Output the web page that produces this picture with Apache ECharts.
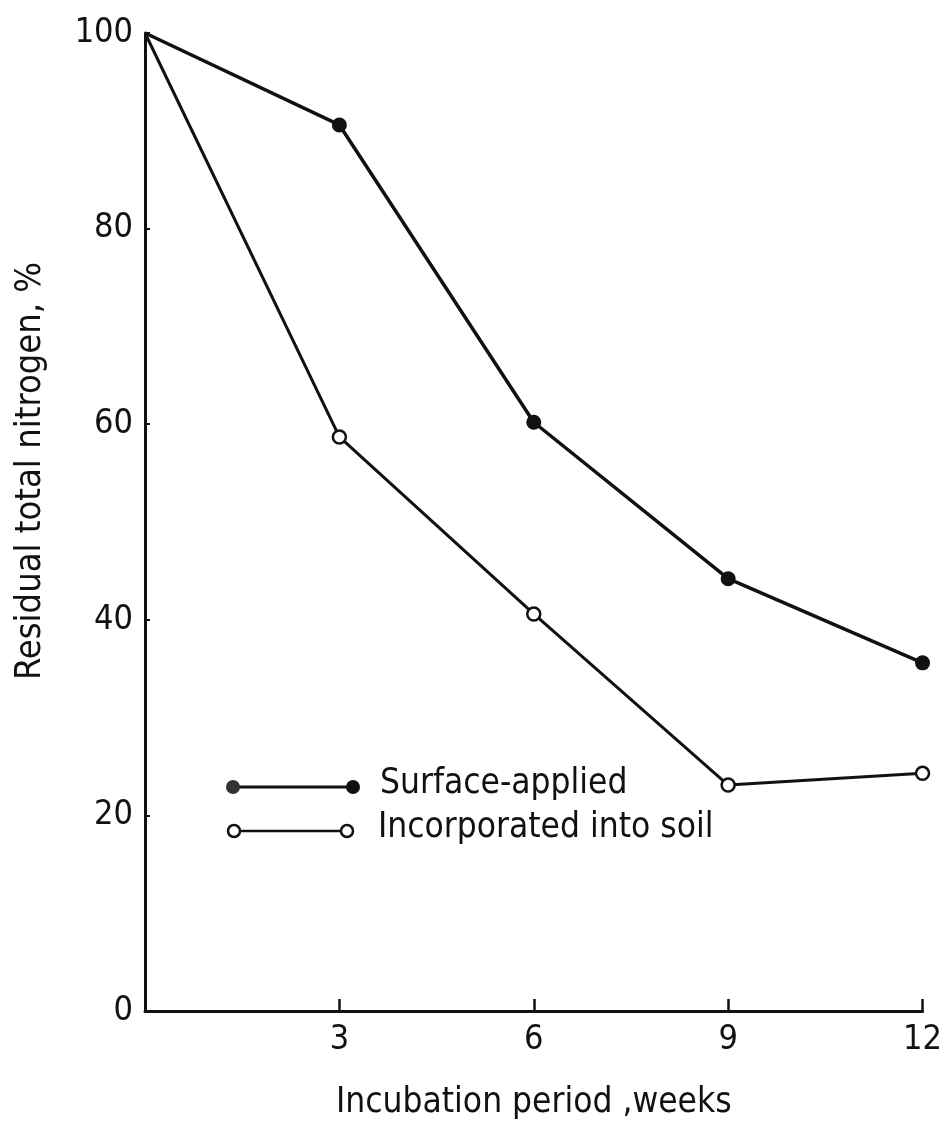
<!DOCTYPE html>
<html>
<head>
<meta charset="utf-8">
<script src="https://cdn.jsdelivr.net/npm/echarts@6/dist/echarts.min.js"></script>
<style>html,body{margin:0;padding:0;background:#fff;}#c{width:945px;height:1133px;}</style>
</head>
<body>
<div id="c"></div>
<script>
var weeks = [0, 3, 6, 9, 12];
var surfaceApplied = [100, 90.6, 60.2, 44.2, 35.6];
var incorporated = [100, 58.7, 40.6, 23.1, 24.3];
var xTicks = [3, 6, 9, 12];
var yTicks = [0, 20, 40, 60, 80, 100];
var seriesNames = ['Surface-applied', 'Incorporated into soil'];

var font = '"DejaVu Sans Condensed", "DejaVu Sans", sans-serif';
function pairs(ys) { return weeks.map(function (w, i) { return [w, ys[i]]; }); }

var chart = echarts.init(document.getElementById('c'));
chart.setOption({
  animation: false,
  backgroundColor: '#fff',
  grid: { left: 145, right: 20, top: 33, bottom: 122 },
  xAxis: {
    type: 'value', min: 0, max: 12, interval: 3,
    name: 'Incubation period ,weeks', nameLocation: 'middle', nameGap: 74,
    nameTextStyle: { fontFamily: font, fontSize: 35, color: '#111' },
    axisLine: { lineStyle: { color: '#111', width: 3 } },
    axisTick: { inside: false, length: -12, lineStyle: { color: '#111', width: 2.5 } },
    axisLabel: { fontFamily: font, fontSize: 34, color: '#111', margin: 12,
      formatter: function (v) { return xTicks.indexOf(v) >= 0 ? String(v) : ''; } },
    splitLine: { show: false }
  },
  yAxis: {
    type: 'value', min: 0, max: 100, interval: 20,
    name: 'Residual total nitrogen, %', nameLocation: 'middle', nameGap: 96, nameRotate: 90,
    nameTextStyle: { fontFamily: font, fontSize: 36, color: '#111', padding: [0, 0, 0, 102] },
    axisLine: { lineStyle: { color: '#111', width: 3 } },
    axisTick: { inside: false, length: -5, lineStyle: { color: '#111', width: 2 } },
    axisLabel: { fontFamily: font, fontSize: 34, color: '#111', margin: 12,
      formatter: function (v) { return yTicks.indexOf(v) >= 0 ? String(v) : ''; } },
    splitLine: { show: false }
  },
  series: [
    {
      name: seriesNames[0], type: 'line', data: pairs(surfaceApplied),
      symbol: 'circle', symbolSize: function (v) { return v[0] === 0 ? 0 : 15; },
      lineStyle: { color: '#111', width: 3.5 },
      itemStyle: { color: '#111', borderColor: '#111', borderWidth: 0 }
    },
    {
      name: seriesNames[1], type: 'line', data: pairs(incorporated),
      symbol: 'circle', symbolSize: function (v) { return v[0] === 0 ? 0 : 13; },
      lineStyle: { color: '#111', width: 3 },
      itemStyle: { color: '#fff', borderColor: '#111', borderWidth: 2.5 }
    }
  ],
  graphic: [
    { type: 'line', shape: { x1: 233, y1: 787, x2: 353, y2: 787 }, style: { stroke: '#111', lineWidth: 3 } },
    { type: 'circle', shape: { cx: 233, cy: 787, r: 7 }, style: { fill: '#333' } },
    { type: 'circle', shape: { cx: 353, cy: 787, r: 7 }, style: { fill: '#111' } },
    { type: 'text', left: 380, top: 766, style: { text: seriesNames[0], font: '35px ' + font, fill: '#111' } },
    { type: 'line', shape: { x1: 234, y1: 831, x2: 347, y2: 831 }, style: { stroke: '#111', lineWidth: 2.5 } },
    { type: 'circle', shape: { cx: 234, cy: 831, r: 6 }, style: { fill: '#fff', stroke: '#111', lineWidth: 2.5 } },
    { type: 'circle', shape: { cx: 347, cy: 831, r: 6 }, style: { fill: '#fff', stroke: '#111', lineWidth: 2.5 } },
    { type: 'text', left: 378, top: 810, style: { text: seriesNames[1], font: '35px ' + font, fill: '#111' } }
  ]
});
</script>
</body>
</html>
